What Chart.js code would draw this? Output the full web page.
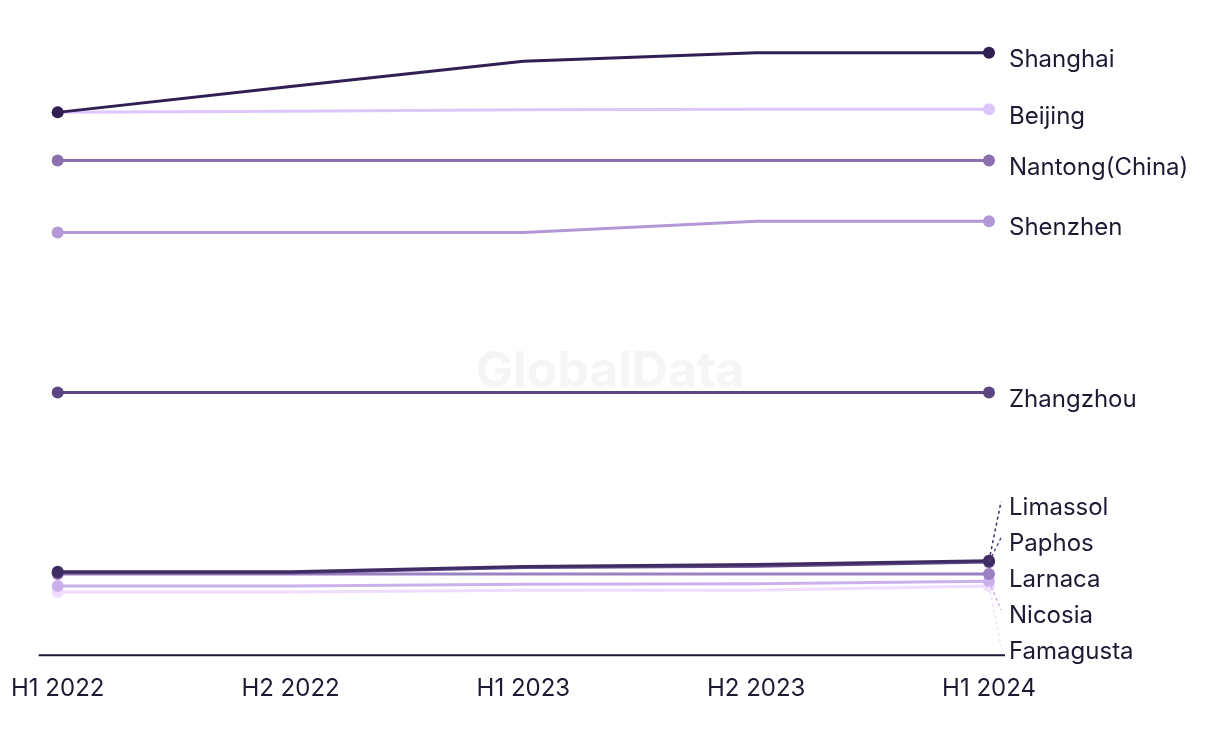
<!DOCTYPE html>
<html>
<head>
<meta charset="utf-8">
<script src="https://cdn.jsdelivr.net/npm/chart.js@4/dist/chart.umd.min.js"></script>
<style>
  html, body { margin: 0; padding: 0; background: #ffffff; }
  #wrap { width: 1220px; height: 744px; position: relative; }
</style>
</head>
<body>
<div id="wrap"><canvas id="c" width="1220" height="744"></canvas></div>
<script>
const categories = ['H1 2022', 'H2 2022', 'H1 2023', 'H2 2023', 'H1 2024'];
const seriesNames = ['Shanghai', 'Beijing', 'Nantong(China)', 'Shenzhen', 'Zhangzhou', 'Limassol', 'Paphos', 'Larnaca', 'Nicosia', 'Famagusta'];
const shanghai  = [90.3, 94.6, 98.8, 100.2, 100.2];
const beijing   = [90.3, 90.5, 90.75, 90.8, 90.8];
const nantong   = [82.3, 82.3, 82.3, 82.3, 82.3];
const shenzhen  = [70.3, 70.3, 70.3, 72.2, 72.2];
const zhangzhou = [43.7, 43.7, 43.7, 43.7, 43.7];
const limassol  = [13.9, 13.9, 14.75, 15.1, 15.7];
const paphos    = [13.7, 13.7, 14.6, 14.8, 15.5];
const larnaca   = [13.5, 13.5, 13.5, 13.5, 13.5];
const nicosia   = [11.5, 11.5, 11.8, 11.9, 12.3];
const famagusta = [10.5, 10.5, 10.8, 10.8, 11.5];
const seriesValues = [shanghai, beijing, nantong, shenzhen, zhangzhou, limassol, paphos, larnaca, nicosia, famagusta];
const seriesColors = ['#2f1f52', '#dcc6fa', '#8a70ae', '#b398d6', '#5b4682', '#3f2c62', '#5d4787', '#9b80c2', '#cbb1ec', '#f0dcfe'];

const textColor = '#1d1b33';
const fontFamily = 'Inter, "Open Sans", sans-serif';

const labelPlugin = {
  id: 'endLabels',
  beforeDraw(chart) {
    const ctx = chart.ctx;
    ctx.save();
    ctx.fillStyle = '#f5f5f5';
    ctx.font = 'bold 50px ' + fontFamily;
    ctx.textAlign = 'center';
    ctx.textBaseline = 'middle';
    ctx.fillText('GlobalData', chart.width / 2, chart.height / 2);
    ctx.restore();
  },
  afterDatasetsDraw(chart) {
    const ctx = chart.ctx;
    const area = chart.chartArea;
    ctx.save();
    ctx.strokeStyle = textColor;
    ctx.lineWidth = 2;
    ctx.beginPath();
    ctx.moveTo(area.left - 19, area.bottom);
    ctx.lineTo(area.right + 16, area.bottom);
    ctx.stroke();
    ctx.restore();

    const items = chart.data.datasets.map((ds, i) => {
      const meta = chart.getDatasetMeta(i);
      const pt = meta.data[meta.data.length - 1];
      return { name: ds.label, color: ds.borderColor, px: pt.x, py: pt.y, target: pt.y + 6 };
    }).sort((a, b) => a.target - b.target);
    const gap = 36;
    let groups = items.map(it => ({ members: [it], center: it.target }));
    let changed = true;
    while (changed) {
      changed = false;
      for (let i = 0; i < groups.length - 1; i++) {
        const g1 = groups[i], g2 = groups[i + 1];
        const g1Bottom = g1.center + (g1.members.length - 1) * gap / 2;
        const g2Top = g2.center - (g2.members.length - 1) * gap / 2;
        if (g2Top - g1Bottom < gap) {
          const members = g1.members.concat(g2.members);
          const center = members.reduce((s, m) => s + m.target, 0) / members.length;
          groups.splice(i, 2, { members, center });
          changed = true;
          break;
        }
      }
    }
    ctx.save();
    ctx.font = '24px ' + fontFamily;
    ctx.textBaseline = 'middle';
    ctx.textAlign = 'left';
    groups.forEach(g => {
      const n = g.members.length;
      g.members.forEach((m, k) => {
        const ly = g.center + (k - (n - 1) / 2) * gap;
        if (Math.abs(ly - m.target) > 8) {
          ctx.save();
          ctx.strokeStyle = m.color;
          ctx.lineWidth = 1.5;
          ctx.setLineDash([3, 3]);
          ctx.beginPath();
          ctx.moveTo(m.px, m.py);
          ctx.lineTo(m.px + 12, ly - 5);
          ctx.stroke();
          ctx.restore();
        }
        ctx.fillStyle = textColor;
        ctx.fillText(m.name, m.px + 20, ly + 1);
      });
    });
    ctx.restore();
  }
};

const datasets = seriesNames.map((name, i) => ({
  label: name,
  data: seriesValues[i],
  borderColor: seriesColors[i],
  backgroundColor: seriesColors[i],
  borderWidth: 3,
  pointRadius: seriesValues[i].map((v, j) => (j === 0 || j === seriesValues[i].length - 1) ? 6 : 0),
  pointHoverRadius: 6,
  pointBorderWidth: 0,
  tension: 0,
  clip: false
}));

new Chart(document.getElementById('c'), {
  type: 'line',
  data: { labels: categories, datasets },
  options: {
    responsive: false,
    animation: false,
    layout: { padding: { left: 53, right: 231, top: 24, bottom: 30 } },
    plugins: { legend: { display: false }, tooltip: { enabled: false } },
    scales: {
      x: {
        offset: false,
        grid: { display: false },
        border: { display: false },
        ticks: { color: textColor, font: { family: fontFamily, size: 24 }, padding: 11, maxRotation: 0, autoSkip: false }
      },
      y: {
        display: false,
        min: 0,
        max: 105
      }
    }
  },
  plugins: [labelPlugin]
});
</script>
</body>
</html>
